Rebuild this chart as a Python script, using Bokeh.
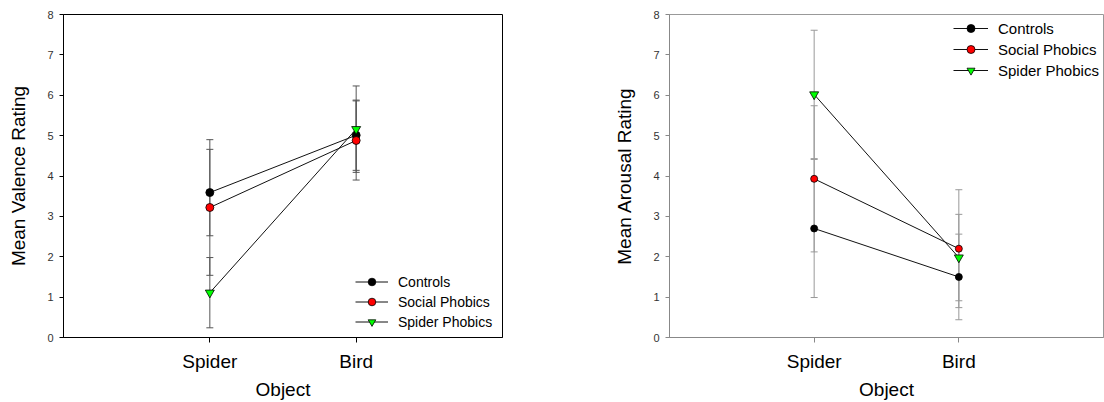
from bokeh.plotting import figure
from bokeh.models import Range1d, FixedTicker, Whisker, TeeHead, ColumnDataSource, Legend, LegendItem
from bokeh.layouts import row
from bokeh.embed import file_html
from bokeh.resources import INLINE

categories = ["Spider", "Bird"]
groups = ["Controls", "Social Phobics", "Spider Phobics"]

valence_controls = [3.59, 5.01]
valence_social = [3.22, 4.88]
valence_spider = [1.11, 5.16]
valence_controls_err = [1.07, 0.87]
valence_social_err = [1.68, 0.98]
valence_spider_err = [0.87, 1.07]

arousal_controls = [2.70, 1.50]
arousal_social = [3.93, 2.20]
arousal_spider = [6.02, 1.98]
arousal_controls_err = [1.71, 1.06]
arousal_social_err = [1.81, 1.46]
arousal_spider_err = [1.59, 1.07]

y_ticks = [0, 1, 2, 3, 4, 5, 6, 7, 8]

FONT = "Liberation Sans"
x_pos = [i + 1 for i in range(len(categories))]


def make_plot(ylabel, means, errs, width, bl, br, bt, bb, axis_col, whisk_col, outline_col,
              msize, tsize, leg):
    p = figure(width=width, height=402, output_backend="svg", toolbar_location=None,
               x_range=Range1d(0, len(categories) + 1), y_range=Range1d(0, 8),
               min_border_left=bl, min_border_right=br, min_border_top=bt, min_border_bottom=bb)
    p.xgrid.visible = False
    p.ygrid.visible = False
    p.outline_line_color = outline_col
    p.background_fill_color = "white"
    p.border_fill_color = "white"

    p.xaxis.ticker = FixedTicker(ticks=x_pos)
    p.xaxis.major_label_overrides = {x: c for x, c in zip(x_pos, categories)}
    p.xaxis.minor_tick_line_color = None
    p.xaxis.major_tick_out = 5
    p.xaxis.major_tick_in = 0
    p.xaxis.major_label_standoff = 8
    p.xaxis.major_label_text_font = FONT
    p.xaxis.major_label_text_font_size = "19px"
    p.xaxis.major_label_text_color = "black"
    p.xaxis.axis_label = "Object"
    p.xaxis.axis_label_text_font = FONT
    p.xaxis.axis_label_text_font_size = "19px"
    p.xaxis.axis_label_text_font_style = "normal"
    p.xaxis.axis_label_text_color = "black"
    p.xaxis.axis_label_standoff = 4
    p.xaxis.axis_line_color = axis_col
    p.xaxis.major_tick_line_color = axis_col

    p.yaxis.ticker = FixedTicker(ticks=y_ticks)
    p.yaxis.minor_tick_line_color = None
    p.yaxis.major_tick_out = 4
    p.yaxis.major_tick_in = 0
    p.yaxis.major_label_standoff = 6
    p.yaxis.major_label_text_font = FONT
    p.yaxis.major_label_text_font_size = "11px"
    p.yaxis.major_label_text_color = "#333333"
    p.yaxis.axis_label = ylabel
    p.yaxis.axis_label_text_font = FONT
    p.yaxis.axis_label_text_font_size = "19px"
    p.yaxis.axis_label_text_font_style = "normal"
    p.yaxis.axis_label_text_color = "black"
    p.yaxis.axis_label_standoff = 15
    p.yaxis.axis_line_color = axis_col
    p.yaxis.major_tick_line_color = axis_col

    fills = ["black", "#ff0000", "#00ff00"]
    items = []
    for m, e in zip(means, errs):
        src = ColumnDataSource(dict(x=x_pos, upper=[a + b for a, b in zip(m, e)],
                                    lower=[a - b for a, b in zip(m, e)]))
        w = Whisker(source=src, base="x", upper="upper", lower="lower", dimension="height",
                    line_color=whisk_col, line_width=1,
                    upper_head=TeeHead(size=7, line_color=whisk_col, line_width=1),
                    lower_head=TeeHead(size=7, line_color=whisk_col, line_width=1))
        p.add_layout(w)
    for k, (m, f, g) in enumerate(zip(means, fills, groups)):
        ln = p.line(x_pos, m, line_color="#111111", line_width=1)
        if k < 2:
            sc = p.scatter(x_pos, m, marker="circle", size=msize, fill_color=f,
                           line_color="black", line_width=0.8)
        else:
            sc = p.scatter(x_pos, m, marker="inverted_triangle", size=tsize, fill_color=f,
                           line_color="black", line_width=0.8)
        items.append(LegendItem(label=g, renderers=[ln, sc]))

    legend = Legend(items=items, location=leg["loc"], padding=0, margin=0,
                    border_line_alpha=0, background_fill_alpha=0,
                    glyph_width=leg["gw"], glyph_height=leg["gh"], label_height=leg["gh"],
                    spacing=1, label_standoff=leg["st"],
                    label_text_font=FONT, label_text_font_size=leg["fs"],
                    label_text_color="black")
    p.add_layout(legend)
    return p


p1 = make_plot("Mean Valence Rating",
               [valence_controls, valence_social, valence_spider],
               [valence_controls_err, valence_social_err, valence_spider_err],
               600, 63, 98, 14, 63, "black", "#555555", "black", 8, 9,
               dict(loc=(292, 6), gw=33, gh=19, st=10, fs="14px"))

p2 = make_plot("Mean Arousal Rating",
               [arousal_controls, arousal_social, arousal_spider],
               [arousal_controls_err, arousal_social_err, arousal_spider_err],
               504, 69, 1, 13, 64, "#888888", "#999999", "#999999", 7, 9,
               dict(loc=(284, 257), gw=35, gh=20, st=10, fs="15px"))

layout = row(p1, p2)
open("out.html", "w").write(file_html(layout, INLINE))
